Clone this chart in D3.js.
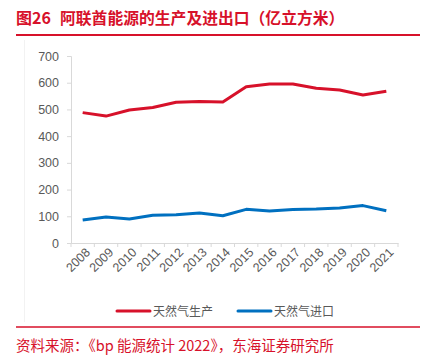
<!DOCTYPE html>
<html><head><meta charset="utf-8">
<script src="https://cdn.jsdelivr.net/npm/d3@7"></script>
<style>body{margin:0;background:#fff;}svg{display:block;font-family:"Liberation Sans","Noto Sans CJK SC",sans-serif;}</style>
</head><body><svg id="c" width="426" height="358"></svg>
<script>
const years = ["2008","2009","2010","2011","2012","2013","2014","2015","2016","2017","2018","2019","2020","2021"];
const production = [488,475,498,507,527,530,528,585,595,595,579,573,554,568];
const imports = [86,97,90,104,106,112,102,126,120,125,127,131,140,121];
const yTicks = [0,100,200,300,400,500,600,700];
const seriesNames = ["天然气生产","天然气进口"];
const colors = ["#d7112a","#0070c0"];

const svg = d3.select("#c");
const red = "#d7112a";
const cjk = '"Noto Sans CJK SC",sans-serif';

svg.append("text").attr("x",16).attr("y",24).attr("fill",red)
  .attr("font-size",16).attr("font-weight","bold").attr("font-family",cjk)
  .text("图26");
svg.append("text").attr("x",60).attr("y",24).attr("fill",red)
  .attr("font-size",15.8).attr("font-weight","bold").attr("font-family",cjk)
  .text("阿联酋能源的生产及进出口（亿立方米）");
svg.append("line").attr("x1",16).attr("x2",420).attr("y1",35).attr("y2",35).attr("stroke",red).attr("stroke-width",2);

// faint chart border
svg.append("line").attr("x1",24.5).attr("x2",24.5).attr("y1",40).attr("y2",322).attr("stroke","#f2f2f2");

const x = d3.scaleBand().domain(years).range([71,398]);
const y = d3.scaleLinear().domain([0,700]).range([243,56]);

const yAxis = svg.append("g").attr("transform","translate(71,0)")
  .call(d3.axisLeft(y).tickValues(yTicks).tickSize(4).tickPadding(8));
yAxis.select(".domain").attr("stroke","#d9d9d9");
yAxis.selectAll(".tick line").attr("stroke","#d9d9d9");
yAxis.selectAll("text").attr("fill","#595959").attr("font-size",12.5);

const xAxis = svg.append("g").attr("transform","translate(0,243)")
  .call(d3.axisBottom(x).tickSize(0).tickSizeOuter(0));
xAxis.select(".domain").attr("stroke","#d9d9d9");
xAxis.selectAll("text").attr("fill","#595959").attr("font-size",12.5)
  .attr("text-anchor","end").attr("dy",0).attr("dx",0)
  .attr("transform","translate(6,8) rotate(-45)");
// boundary tick marks
const bounds = years.map(d=>x(d)).concat([x(years[years.length-1])+x.bandwidth()]);
svg.append("g").selectAll("line").data(bounds).join("line")
  .attr("x1",d=>d).attr("x2",d=>d).attr("y1",243).attr("y2",247).attr("stroke","#d9d9d9");

const line = d3.line().x((d,i)=>x(years[i])+x.bandwidth()/2).y(d=>y(d));
[production, imports].forEach((s,i)=>{
  svg.append("path").datum(s).attr("d",line).attr("fill","none")
    .attr("stroke",colors[i]).attr("stroke-width",3).attr("stroke-linejoin","round");
});

// legend
const lx = [117,238];
seriesNames.forEach((n,i)=>{
  svg.append("line").attr("x1",lx[i]).attr("x2",lx[i]+33).attr("y1",311).attr("y2",311)
    .attr("stroke",colors[i]).attr("stroke-width",3).attr("stroke-linecap","round");
  svg.append("text").attr("x",lx[i]+36).attr("y",315.5).attr("fill","#595959")
    .attr("font-size",12).attr("font-family",cjk).text(n);
});

svg.append("line").attr("x1",16).attr("x2",420).attr("y1",327).attr("y2",327).attr("stroke",red).attr("stroke-width",1.5);
svg.append("text").attr("x",16).attr("y",351).attr("fill",red)
  .attr("font-size",14.5).attr("font-family",cjk)
  .text("资料来源：《bp 能源统计 2022》，东海证券研究所");
</script></body></html>
